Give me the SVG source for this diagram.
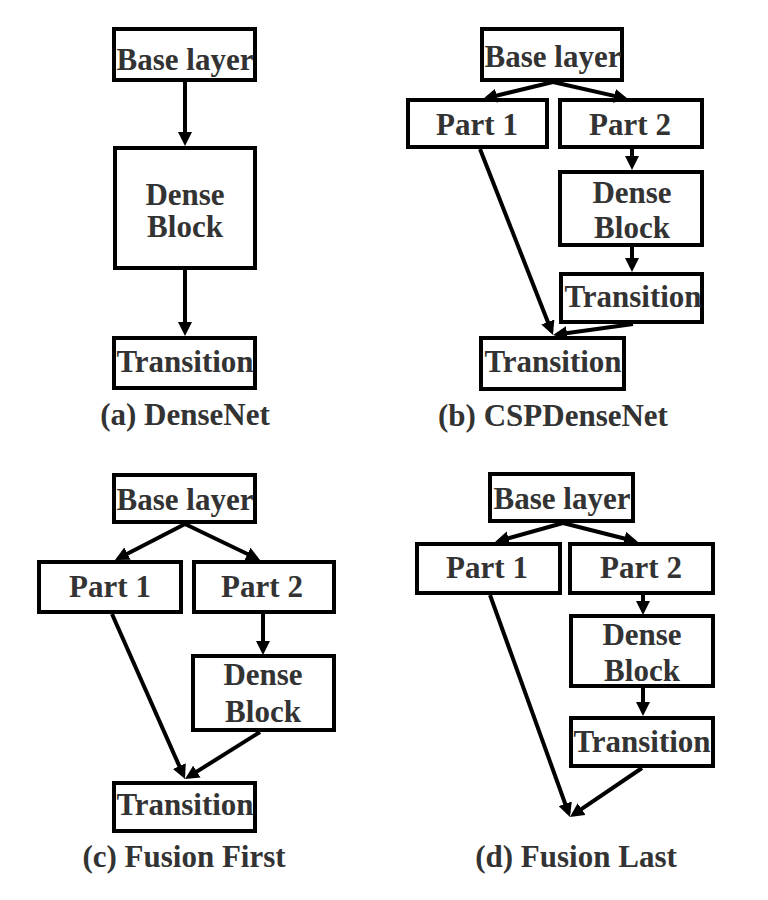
<svg xmlns="http://www.w3.org/2000/svg" width="768" height="900" viewBox="0 0 768 900">
<style>
.box{fill:#fff;stroke:#000;stroke-width:4}
.t{font-family:"Liberation Serif","Times New Roman",serif;font-weight:bold;font-size:31px;fill:#333;text-anchor:middle}
.cap{font-family:"Liberation Serif","Times New Roman",serif;font-weight:bold;font-size:31px;fill:#333;text-anchor:middle}
.e{fill:none;stroke:#000;stroke-width:4;marker-end:url(#ah)}
</style>
<defs>
<marker id="ah" markerUnits="userSpaceOnUse" markerWidth="14" markerHeight="14" viewBox="0 0 14 14" refX="10" refY="7" orient="auto">
<path d="M0,0 L14,7 L0,14 z" fill="#000"/>
</marker>
</defs>
<rect width="768" height="900" fill="#fff"/>

<!-- (a) DenseNet -->
<g id="a_base"><rect class="box" x="114" y="29" width="141" height="51"/><text class="t" x="185" y="70">Base layer</text></g>
<g id="a_dense"><rect class="box" x="115" y="148" width="140" height="120"/><text class="t" x="185" y="205">Dense</text><text class="t" x="185" y="237">Block</text></g>
<g id="a_trans"><rect class="box" x="114" y="338" width="141" height="50"/><text class="t" x="185" y="372">Transition</text></g>
<g id="a_cap"><text class="cap" x="185" y="425">(a) DenseNet</text></g>

<!-- (b) CSPDenseNet -->
<g id="b_base"><rect class="box" x="482" y="29" width="140" height="51"/><text class="t" x="553" y="67">Base layer</text></g>
<g id="b_part1"><rect class="box" x="408" y="100" width="139" height="47"/><text class="t" x="477" y="135">Part 1</text></g>
<g id="b_part2"><rect class="box" x="560" y="100" width="142" height="47"/><text class="t" x="630" y="135">Part 2</text></g>
<g id="b_dense"><rect class="box" x="560" y="172" width="142" height="73"/><text class="t" x="632" y="203">Dense</text><text class="t" x="632" y="238">Block</text></g>
<g id="b_trans1"><rect class="box" x="561" y="274" width="141" height="48"/><text class="t" x="633" y="307">Transition</text></g>
<g id="b_trans2"><rect class="box" x="481" y="338" width="143" height="51"/><text class="t" x="553" y="372">Transition</text></g>
<g id="b_cap"><text class="cap" x="553" y="426">(b) CSPDenseNet</text></g>

<!-- (c) Fusion First -->
<g id="c_base"><rect class="box" x="114" y="475" width="141" height="47"/><text class="t" x="185" y="510">Base layer</text></g>
<g id="c_part1"><rect class="box" x="39" y="562" width="142" height="50"/><text class="t" x="110" y="597">Part 1</text></g>
<g id="c_part2"><rect class="box" x="194" y="562" width="140" height="50"/><text class="t" x="262" y="597">Part 2</text></g>
<g id="c_dense"><rect class="box" x="193" y="656" width="141" height="74"/><text class="t" x="263" y="685">Dense</text><text class="t" x="263" y="722">Block</text></g>
<g id="c_trans"><rect class="box" x="114" y="783" width="141" height="48"/><text class="t" x="185" y="815">Transition</text></g>
<g id="c_cap"><text class="cap" x="184" y="867">(c) Fusion First</text></g>

<!-- (d) Fusion Last -->
<g id="d_base"><rect class="box" x="490" y="474" width="143" height="47"/><text class="t" x="562" y="509">Base layer</text></g>
<g id="d_part1"><rect class="box" x="417" y="544" width="143" height="49"/><text class="t" x="487" y="578">Part 1</text></g>
<g id="d_part2"><rect class="box" x="570" y="544" width="143" height="49"/><text class="t" x="641" y="578">Part 2</text></g>
<g id="d_dense"><rect class="box" x="571" y="616" width="142" height="70"/><text class="t" x="642" y="645">Dense</text><text class="t" x="642" y="681">Block</text></g>
<g id="d_trans"><rect class="box" x="571" y="718" width="142" height="48"/><text class="t" x="642" y="752">Transition</text></g>
<g id="d_cap"><text class="cap" x="576" y="867">(d) Fusion Last</text></g>

<g id="connectors">
<!-- a -->
<line class="e" x1="185" y1="82" x2="185" y2="142"/>
<line class="e" x1="185" y1="270" x2="185" y2="332"/>
<!-- b -->
<line class="e" x1="553" y1="82" x2="486.9" y2="98"/>
<line class="e" x1="553" y1="82" x2="624.1" y2="98.1"/>
<line class="e" x1="632" y1="149" x2="632" y2="166"/>
<line class="e" x1="632" y1="247" x2="632" y2="268"/>
<line class="e" x1="480" y1="149" x2="551.5" y2="331.3"/>
<line class="e" x1="633" y1="324" x2="557" y2="334.5"/>
<!-- c -->
<line class="e" x1="185" y1="524" x2="118.6" y2="558.2"/>
<line class="e" x1="185" y1="524" x2="256.4" y2="558.3"/>
<line class="e" x1="263" y1="614" x2="263" y2="651"/>
<line class="e" x1="112" y1="614" x2="183.4" y2="775.3"/>
<line class="e" x1="260" y1="732" x2="188.4" y2="776.9"/>
<!-- d -->
<line class="e" x1="563" y1="523" x2="498.9" y2="540.9"/>
<line class="e" x1="563" y1="523" x2="634.1" y2="541"/>
<line class="e" x1="643" y1="595" x2="643" y2="611"/>
<line class="e" x1="643" y1="688" x2="643" y2="712"/>
<line class="e" x1="490" y1="595" x2="568.6" y2="813.2"/>
<line class="e" x1="642" y1="768" x2="573.3" y2="814.7"/>
</g>
</svg>
